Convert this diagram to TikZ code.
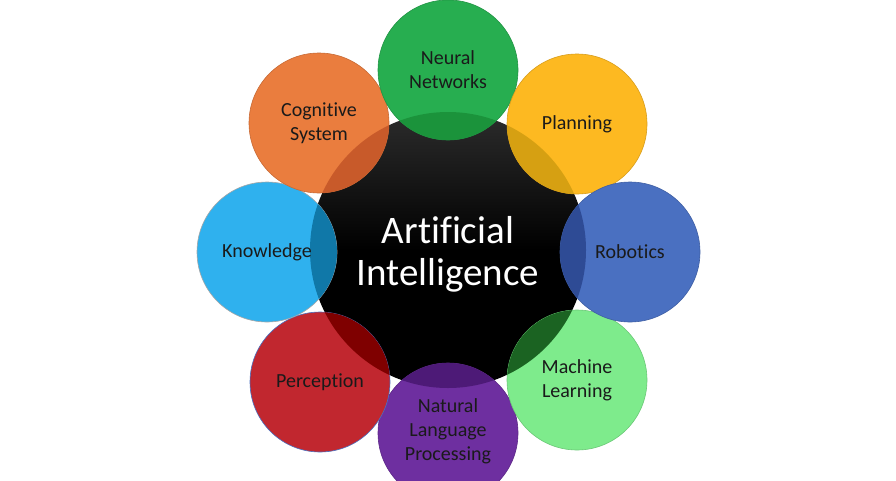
\documentclass[tikz,border=0pt]{standalone}
\usepackage{fontspec}
\setmainfont{Carlito}[Ligatures={NoCommon,NoDiscretionary,NoRare}]
\definecolor{cNN}{HTML}{27AE50} \definecolor{oNN}{HTML}{1B933B}
\definecolor{cPL}{HTML}{FDB921} \definecolor{oPL}{HTML}{D6A012}
\definecolor{cRO}{HTML}{4A70C1} \definecolor{oRO}{HTML}{2E4B95}
\definecolor{cML}{HTML}{7EEB8C} \definecolor{oML}{HTML}{1B6322}
\definecolor{cNL}{HTML}{6E2FA0} \definecolor{oNL}{HTML}{4D1A77}
\definecolor{cPE}{HTML}{C1272F} \definecolor{oPE}{HTML}{7F0000}
\definecolor{cKN}{HTML}{2FB1EE} \definecolor{oKN}{HTML}{1078A8}
\definecolor{cCO}{HTML}{EA7D3E} \definecolor{oCO}{HTML}{C85A2A}
\definecolor{txt}{HTML}{1A1A1A}
\definecolor{topgray}{HTML}{2C2C2C}
\tikzset{
  sat/.style={circle, minimum size=140pt, inner sep=0pt, fill=#1, draw=#1!85!black, line width=0.6pt},
  lab/.style={text=txt, align=center, font=\fontsize{20}{24}\selectfont},
  core/.style={circle, minimum size=276pt, inner sep=0pt, top color=topgray, bottom color=black, middle color=black},
  corelab/.style={text=white, align=center, font=\fontsize{39}{42}\selectfont},
}
\newcommand{\overlapfill}[2]{%
  \begin{scope}
    \clip (#1) circle (70pt);
    \fill[#2] (ai) circle (138pt);
  \end{scope}}
\begin{document}
\begin{tikzpicture}[x=1pt,y=-1pt]
  \useasboundingbox (0,0) rectangle (896,480);
  \clip (0,0) rectangle (896,480);
  \node[core] (ai) at (448,250) {};
  % satellites
  \node[sat=cNL] (nl) at (448,433) {};
  \overlapfill{nl}{oNL}
  \node[sat=cML] (ml) at (577,380) {};
  \overlapfill{ml}{oML}
  \node[sat=cPE, draw=cRO] (pe) at (320,382) {};
  \overlapfill{pe}{oPE}
  \node[sat=cKN, draw=gray!70] (kn) at (267,252) {};
  \overlapfill{kn}{oKN}
  \node[sat=cCO] (co) at (319,123) {};
  \overlapfill{co}{oCO}
  \node[sat=cNN] (nn) at (448,70) {};
  \overlapfill{nn}{oNN}
  \node[sat=cPL] (pl) at (577,124) {};
  \overlapfill{pl}{oPL}
  \node[sat=cRO] (ro) at (630,252) {};
  \overlapfill{ro}{oRO}
  % labels
  \node[corelab] (ai-label) at ([yshift=-4pt]ai) {Artificial\\Intelligence};
  \node[lab] (nn-label) at (nn) {Neural\\Networks};
  \node[lab] (pl-label) at (pl) {Planning};
  \node[lab] (ro-label) at (ro) {Robotics};
  \node[lab] (ml-label) at (ml) {Machine\\Learning};
  \node[lab] (nl-label) at ([yshift=2pt]nl) {Natural\\Language\\Processing};
  \node[lab] (pe-label) at (pe) {Perception};
  \node[lab] (kn-label) at (kn) {Knowledge};
  \node[lab] (co-label) at (co) {Cognitive\\System};
\end{tikzpicture}
\end{document}
